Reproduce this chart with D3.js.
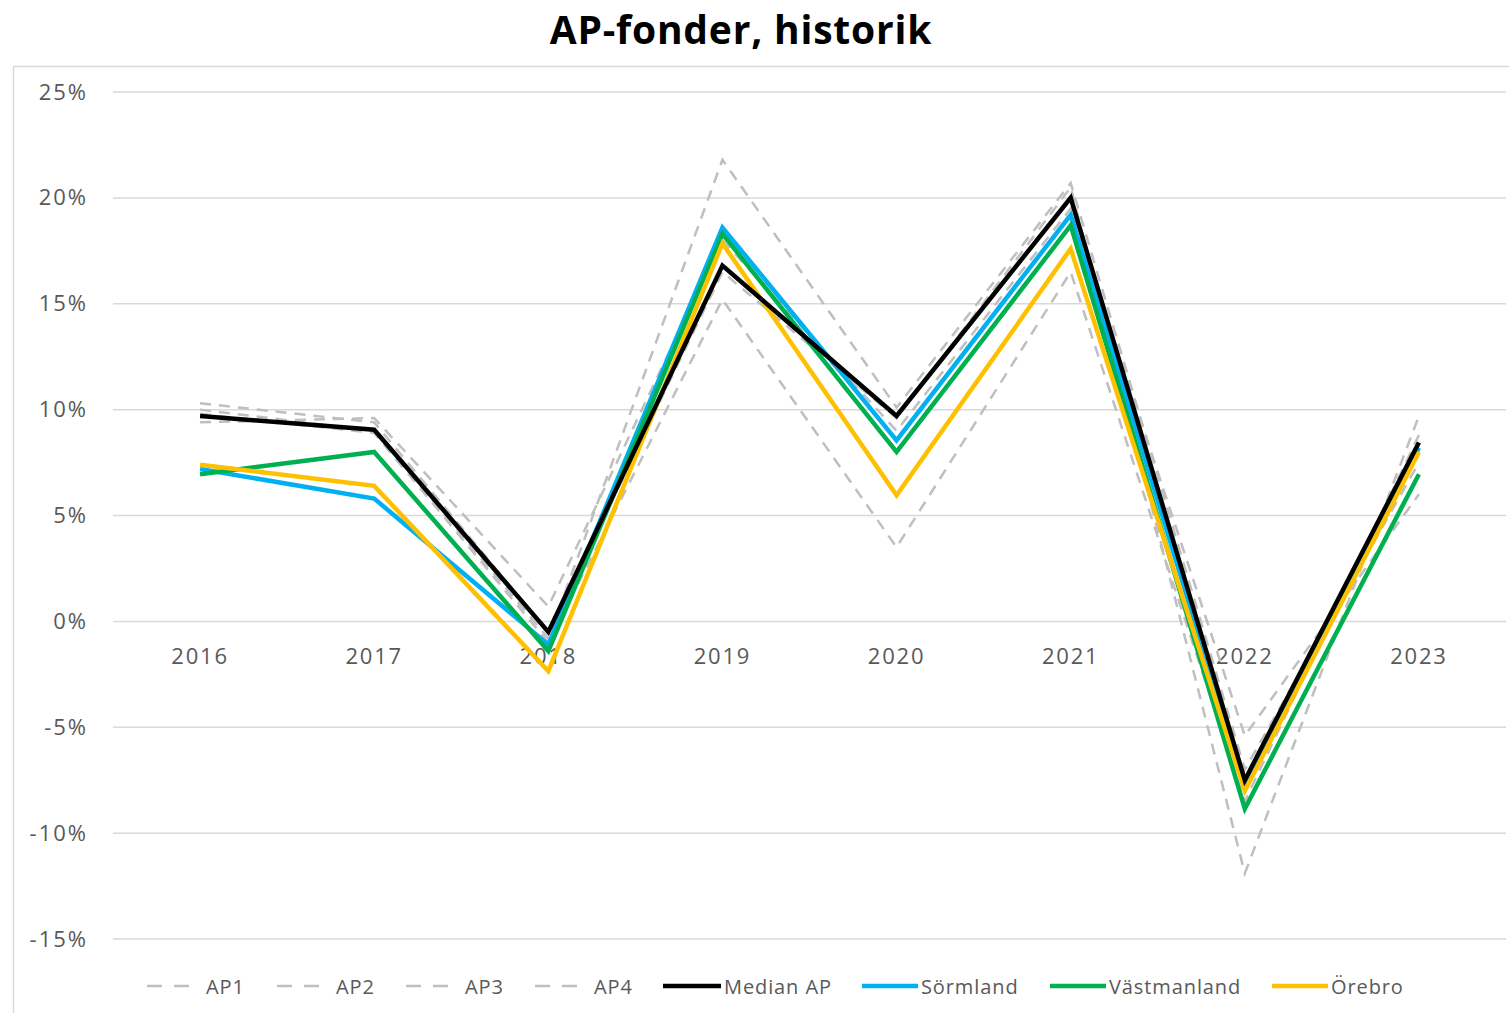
<!DOCTYPE html>
<html>
<head>
<meta charset="utf-8">
<script src="https://cdn.jsdelivr.net/npm/d3@7"></script>
<style>
  body { margin: 0; background: #fff; }
  svg { font-family: "Open Sans", "Liberation Sans", sans-serif; }
</style>
</head>
<body>
<svg width="1509" height="1013"></svg>
<script>
// data (percent)
var years = ["2016", "2017", "2018", "2019", "2020", "2021", "2022", "2023"];
var yTicks = [-15, -10, -5, 0, 5, 10, 15, 20, 25];

var ap1 = [10.3, 9.4, -0.5, 16.5, 9.6, 20.5, -11.9, 9.7];
var ap2 = [9.4, 9.6, 0.7, 18.0, 9.0, 19.5, -5.4, 6.0];
var ap3 = [9.8, 8.9, -1.0, 15.2, 3.5, 16.5, -8.5, 8.8];
var ap4 = [10.0, 9.0, -0.8, 21.8, 10.1, 20.7, -7.0, 7.5];
var medianAP = [9.7, 9.05, -0.5, 16.8, 9.7, 20.0, -7.5, 8.45];
var sormland = [7.2, 5.8, -1.1, 18.6, 8.55, 19.2, -7.8, 8.2];
var vastmanland = [6.95, 8.0, -1.4, 18.3, 8.0, 18.7, -8.85, 6.95];
var orebro = [7.4, 6.4, -2.35, 17.85, 5.95, 17.6, -8.0, 8.0];

var series = [
  {name: "AP1", values: ap1, color: "#bfbfbf", dashed: true},
  {name: "AP2", values: ap2, color: "#bfbfbf", dashed: true},
  {name: "AP3", values: ap3, color: "#bfbfbf", dashed: true},
  {name: "AP4", values: ap4, color: "#bfbfbf", dashed: true},
  {name: "Median AP", values: medianAP, color: "#000000", dashed: false},
  {name: "Sörmland", values: sormland, color: "#00b0f0", dashed: false},
  {name: "Västmanland", values: vastmanland, color: "#00b050", dashed: false},
  {name: "Örebro", values: orebro, color: "#ffc000", dashed: false}
];
// drawing order: dashed first, colored, black on top
var drawOrder = [0, 1, 2, 3, 5, 6, 7, 4];

var svg = d3.select("svg");

// chart frame
svg.append("rect")
  .attr("x", 13.5).attr("y", 66.5)
  .attr("width", 1520).attr("height", 1000)
  .attr("fill", "none").attr("stroke", "#d9d9d9").attr("stroke-width", 1.5);

svg.append("text")
  .attr("x", 741).attr("y", 44)
  .attr("text-anchor", "middle")
  .attr("font-size", 39).attr("font-weight", "bold")
  .attr("letter-spacing", 0.8)
  .attr("fill", "#000")
  .text("AP-fonder, historik");

var x = d3.scaleBand().domain(years).range([113, 1506]).padding(0);
var y = d3.scaleLinear().domain([-15, 25]).range([939, 92]);
var cx = function(i) { return x(years[i]) + x.bandwidth() / 2; };

// gridlines
svg.append("g")
  .selectAll("line")
  .data(yTicks)
  .enter().append("line")
  .attr("x1", 113).attr("x2", 1506)
  .attr("y1", function(d) { return y(d); })
  .attr("y2", function(d) { return y(d); })
  .attr("stroke", "#d9d9d9").attr("stroke-width", 1.5);

// y axis labels
var yAxis = svg.append("g")
  .attr("transform", "translate(88,0)")
  .call(d3.axisLeft(y).tickValues(yTicks).tickSize(0).tickPadding(0)
    .tickFormat(function(d) { return d + "%"; }));
yAxis.select(".domain").remove();
yAxis.selectAll("text")
  .attr("font-size", 22).attr("fill", "#595959")
  .attr("letter-spacing", 2)
  .attr("font-family", "Open Sans, sans-serif");

// x axis labels, at the zero line
var xAxis = svg.append("g")
  .attr("transform", "translate(0," + y(0) + ")")
  .call(d3.axisBottom(x).tickSize(0).tickPadding(27));
xAxis.select(".domain").remove();
xAxis.selectAll("text")
  .attr("font-size", 22).attr("fill", "#595959")
  .attr("letter-spacing", 1.8)
  .attr("font-family", "Open Sans, sans-serif");

var line = d3.line()
  .x(function(d, i) { return cx(i); })
  .y(function(d) { return y(d); });

svg.append("g")
  .selectAll("path")
  .data(drawOrder.map(function(i) { return series[i]; }))
  .enter().append("path")
  .attr("d", function(s) { return line(s.values); })
  .attr("fill", "none")
  .attr("stroke", function(s) { return s.color; })
  .attr("stroke-width", function(s) { return s.dashed ? 2.5 : 4.5; })
  .attr("stroke-dasharray", function(s) { return s.dashed ? "11,8" : null; })
  .attr("stroke-linejoin", "miter");

// legend
var legendX = [147, 277, 406, 535, 663, 862, 1050, 1272];
var legendW = [44, 44, 44, 44, 58, 56, 56, 56];
var legend = svg.append("g").attr("transform", "translate(0,986)");
var item = legend.selectAll("g")
  .data(series)
  .enter().append("g")
  .attr("transform", function(s, i) { return "translate(" + legendX[i] + ",0)"; });
item.append("line")
  .attr("x1", 0).attr("x2", function(s, i) { return legendW[i]; })
  .attr("stroke", function(s) { return s.color; })
  .attr("stroke-width", function(s) { return s.dashed ? 2.5 : 4.5; })
  .attr("stroke-dasharray", function(s) { return s.dashed ? "15,12" : null; });
item.append("text")
  .attr("x", function(s, i) { return legendW[i] + (s.dashed ? 15 : 3); })
  .attr("y", 8)
  .attr("font-size", 20).attr("fill", "#595959")
  .attr("letter-spacing", 0.9)
  .text(function(s) { return s.name; });
</script>
</body>
</html>
